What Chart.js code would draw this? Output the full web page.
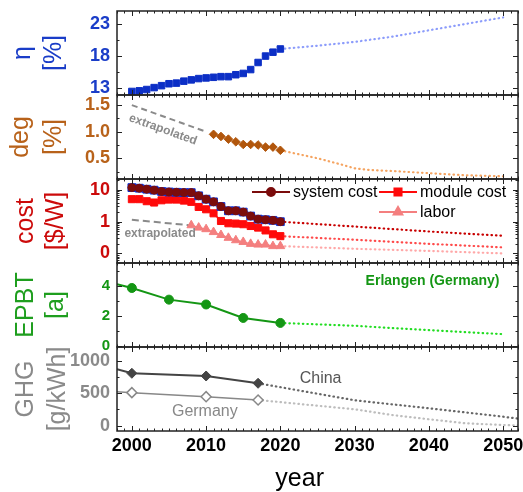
<!DOCTYPE html>
<html>
<head>
<meta charset="utf-8">
<script src="https://cdn.jsdelivr.net/npm/chart.js@4.4.1/dist/chart.umd.min.js"></script>
<style>
  html, body { margin: 0; padding: 0; background: #fff; }
  #wrap { position: relative; width: 523px; height: 492px; }
  #wrap canvas { position: absolute; left: 0; top: 0; }
</style>
</head>
<body>
<div id="wrap">
  <canvas id="etaChart" width="523" height="492"></canvas>
  <canvas id="degChart" width="523" height="492"></canvas>
  <canvas id="costChart" width="523" height="492"></canvas>
  <canvas id="epbtChart" width="523" height="492"></canvas>
  <canvas id="ghgChart" width="523" height="492"></canvas>
</div>
<script>
// ---- shared x axis ----
const xMin = 1998;
const xMax = 2052;
const yearTicks = [2000, 2010, 2020, 2030, 2040, 2050];

// ---- efficiency ----
const etaYears = [2000, 2001, 2002, 2003, 2004, 2005, 2006, 2007, 2008, 2009, 2010,
                  2011, 2012, 2013, 2014, 2015, 2016, 2017, 2018, 2019, 2020];
const etaValues = [12.5, 12.6, 12.8, 13.1, 13.4, 13.7, 13.8, 14.1, 14.3, 14.5, 14.6,
                   14.7, 14.8, 14.8, 15.1, 15.3, 15.9, 17.0, 18.0, 18.6, 19.1];
const etaProjYears = [2020, 2025, 2030, 2035, 2040, 2045, 2050];
const etaProjValues = [19.1, 19.6, 20.2, 21.0, 22.0, 23.0, 24.0];
const etaTicks = [13, 18, 23];

// ---- degradation ----
const degYears = [2011, 2012, 2013, 2014, 2015, 2016, 2017, 2018, 2019, 2020];
const degValues = [0.95, 0.91, 0.86, 0.81, 0.76, 0.76, 0.75, 0.71, 0.71, 0.65];
const degExtrapYears = [2000, 2010];
const degExtrapValues = [1.5, 1.0];
const degProjYears = [2020, 2025, 2028, 2030, 2032, 2035, 2040, 2045, 2050];
const degProjValues = [0.65, 0.50, 0.39, 0.31, 0.28, 0.26, 0.22, 0.18, 0.16];
const degTicks = [0.5, 1.0, 1.5];

// ---- cost ----
const costYears = etaYears;
const systemCost = [11.8, 11.3, 10.5, 9.8, 8.9, 8.6, 8.4, 8.2, 8.2, 6.5, 5.1,
                    4.2, 3.0, 2.2, 2.2, 2.0, 1.5, 1.2, 1.15, 1.1, 1.0];
const moduleCost = [5.1, 5.1, 4.4, 4.0, 4.7, 4.95, 4.95, 4.6, 4.2, 2.9, 2.45,
                    1.83, 1.05, 0.89, 0.87, 0.83, 0.73, 0.65, 0.53, 0.40, 0.35];
const laborYears = [2008, 2009, 2010, 2011, 2012, 2013, 2014, 2015, 2016, 2017, 2018, 2019, 2020];
const laborCost = [0.77, 0.65, 0.58, 0.47, 0.38, 0.31, 0.26, 0.23, 0.20, 0.19, 0.19, 0.17, 0.17];
const costExtrapYears = [2000, 2008];
const costExtrapValues = [1.15, 0.76];
const costProjYears = [2020, 2030, 2040, 2050];
const systemProj = [1.0, 0.70, 0.49, 0.36];
const moduleProj = [0.35, 0.27, 0.20, 0.155];
const laborProj = [0.17, 0.14, 0.12, 0.10];
const costTicks = [0.1, 1, 10];

// ---- energy payback time ----
const epbtYears = [1998, 2000, 2005, 2010, 2015, 2020];
const epbtValues = [4.1, 3.85, 3.08, 2.76, 1.87, 1.54];
const epbtProjYears = [2020, 2030, 2040, 2050];
const epbtProjValues = [1.54, 1.35, 1.06, 0.80];
const epbtTicks = [0, 2, 4];

// ---- greenhouse gas ----
const ghgYears = [1998, 2000, 2010, 2017];
const chinaGhg = [867, 806, 764, 652];
const germanyGhg = [523, 508, 446, 395];
const chinaProjYears = [2017, 2030, 2040, 2050, 2052];
const chinaProj = [652, 391, 267, 138, 108];
const germanyProjYears = [2017, 2030, 2035, 2040, 2045, 2050, 2052];
const germanyProj = [395, 252, 165, 98, 36, 10, 5];
const ghgTicks = [0, 500, 1000];

// ---- layout ----
const FONT = '"Liberation Sans", Arial, sans-serif';
const panelEdges = [11, 95, 179, 263, 347, 431];
const axisWidth = 117;

const pts = (xs, ys) => xs.map((x, i) => ({ x: x, y: ys[i] }));

function dotted(data, color) {
  return { data: data, borderColor: color, borderWidth: 2.2, borderDash: [0.5, 4],
           borderCapStyle: 'round', pointRadius: 0, fill: false };
}

function markers(data, color, style, radius, extra) {
  return Object.assign({ data: data, borderColor: color, backgroundColor: color,
           pointBackgroundColor: color, pointBorderColor: color, pointStyle: style,
           pointRadius: radius, pointBorderWidth: 1, borderWidth: 1.5, fill: false }, extra || {});
}

// Draws frame, inward ticks, axis titles and text notes for each panel
const panelDecor = {
  id: 'panelDecor',
  afterDraw(chart, args, o) {
    const ctx = chart.ctx, a = chart.chartArea;
    const xs = chart.scales.x, ys = chart.scales.y;
    const seg = (x1, y1, x2, y2) => { ctx.beginPath(); ctx.moveTo(x1, y1); ctx.lineTo(x2, y2); ctx.stroke(); };
    ctx.save();
    ctx.strokeStyle = '#222';
    ctx.lineWidth = 1;
    for (let yr = Math.ceil(xs.min); yr <= xs.max; yr++) {
      const px = Math.round(xs.getPixelForValue(yr)) + 0.5;
      const len = yr % 10 === 0 ? 5 : 2.5;
      seg(px, a.top, px, a.top + len);
      seg(px, a.bottom, px, a.bottom - len);
    }
    let minor = o.yMinor || [];
    if (ys.type === 'logarithmic') {
      minor = [];
      for (let d = Math.floor(Math.log10(ys.min)); d <= Math.ceil(Math.log10(ys.max)); d++) {
        for (let k = 2; k <= 9; k++) {
          const v = k * Math.pow(10, d);
          if (v > ys.min && v < ys.max) minor.push(v);
        }
      }
    }
    const yTick = (v, len) => {
      const py = Math.round(ys.getPixelForValue(v)) + 0.5;
      seg(a.left, py, a.left + len, py);
      seg(a.right, py, a.right - len, py);
    };
    o.yMajor.forEach(v => yTick(v, 5));
    minor.forEach(v => yTick(v, 2.5));
    ctx.lineWidth = 1.5;
    ctx.strokeRect(a.left, a.top, a.right - a.left, a.bottom - a.top);

    // rotated two line axis title
    const midY = (a.top + a.bottom) / 2;
    o.title.forEach((t, i) => {
      ctx.save();
      ctx.translate(o.titleX[i], midY);
      ctx.rotate(-Math.PI / 2);
      ctx.fillStyle = o.titleColor;
      ctx.font = '25px ' + FONT;
      ctx.textAlign = 'center';
      ctx.textBaseline = 'alphabetic';
      ctx.fillText(t, 0, 0);
      ctx.restore();
    });

    // text notes placed in data units
    (o.notes || []).forEach(n => {
      ctx.save();
      ctx.translate(xs.getPixelForValue(n.x), ys.getPixelForValue(n.y));
      if (n.along !== undefined) {
        const p = chart.getDatasetMeta(n.along).data;
        ctx.rotate(Math.atan2(p[1].y - p[0].y, p[1].x - p[0].x));
      }
      ctx.fillStyle = n.color;
      ctx.font = n.font + ' ' + FONT;
      ctx.textAlign = n.align || 'left';
      ctx.textBaseline = n.baseline || 'alphabetic';
      ctx.fillText(n.text, 0, 0);
      ctx.restore();
    });

    // hand placed legend rows
    (o.legend || []).forEach(l => {
      const ds = chart.data.datasets[l.dataset];
      const x0 = a.left + l.col, yy = a.top + l.row;
      ctx.strokeStyle = ds.borderColor;
      ctx.lineWidth = 2;
      seg(x0, yy, x0 + 38, yy);
      ctx.fillStyle = ds.pointBackgroundColor;
      Chart.helpers.drawPoint(ctx, { pointStyle: ds.pointStyle, radius: ds.pointRadius, rotation: 0, borderWidth: 1 }, x0 + 19, yy);
      ctx.fillStyle = '#000';
      ctx.font = '16px ' + FONT;
      ctx.textAlign = 'left';
      ctx.textBaseline = 'middle';
      ctx.fillText(l.label, x0 + 41, yy + 1);
    });

    if (o.xTitle) {
      ctx.fillStyle = '#000';
      ctx.font = '25px ' + FONT;
      ctx.textAlign = 'center';
      ctx.textBaseline = 'alphabetic';
      ctx.fillText(o.xTitle.text, xs.getPixelForValue(o.xTitle.x), a.bottom + o.xTitle.dy);
    }
    ctx.restore();
  }
};

function yAxis(cfg) {
  return {
    type: cfg.type || 'linear', min: cfg.min, max: cfg.max,
    grid: { display: false, drawTicks: false }, border: { display: false },
    afterBuildTicks: s => { s.ticks = cfg.ticks.map(v => ({ value: v })); },
    afterFit: s => { s.width = axisWidth; s.paddingTop = 0; s.paddingBottom = 0; },
    ticks: { color: cfg.color, padding: 7, font: { family: FONT, size: cfg.size || 18, weight: 'bold' },
             callback: cfg.label || (v => String(v)) }
  };
}

// every panel spans the full canvas; the x axis box fills the space below it
function makePanel(id, index, datasets, y, decor) {
  const top = panelEdges[index], bottom = panelEdges[index + 1];
  const last = index === panelEdges.length - 2;
  return new Chart(document.getElementById(id), {
    type: 'line',
    data: { datasets: datasets },
    options: {
      responsive: false, animation: false, devicePixelRatio: 1,
      layout: { autoPadding: false, padding: { top: top, bottom: 0, left: 0, right: 5 } },
      plugins: { legend: { display: false }, tooltip: { enabled: false }, panelDecor: decor },
      scales: {
        x: {
          type: 'linear', min: xMin, max: xMax, display: last,
          grid: { display: false, drawTicks: false }, border: { display: false },
          afterBuildTicks: s => { s.ticks = yearTicks.map(v => ({ value: v })); },
          afterFit: s => { s.height = 492 - bottom; s.paddingLeft = 0; s.paddingRight = 0; },
          ticks: { color: '#000', padding: 4, autoSkip: false, maxRotation: 0,
                   font: { family: FONT, size: 18, weight: 'bold' }, callback: v => String(v) }
        },
        y: y
      }
    },
    plugins: [panelDecor]
  });
}

// efficiency panel
makePanel('etaChart', 0, [
  markers(pts(etaYears, etaValues), '#0c2fc6', 'rect', 4.6, { showLine: false }),
  dotted(pts(etaProjYears, etaProjValues), '#8c9cfb')
], yAxis({ min: 11.95, max: 25.0, ticks: etaTicks, color: '#1a3dc8' }),
{ yMajor: etaTicks, yMinor: [15.5, 20.5], title: ['η', '[%]'], titleX: [30, 61], titleColor: '#1a3dc8' });

// degradation panel
makePanel('degChart', 1, [
  markers(pts(degYears, degValues), '#b1560c', 'rectRot', 4.3, { showLine: false }),
  { data: pts(degExtrapYears, degExtrapValues), borderColor: '#8a8a8a', borderWidth: 2,
    borderDash: [6, 4], pointRadius: 0, fill: false },
  dotted(pts(degProjYears, degProjValues), '#f5a461')
], yAxis({ min: 0.11, max: 1.69, ticks: degTicks, color: '#b8621a', label: v => v.toFixed(1) }),
{ yMajor: degTicks, yMinor: [0.25, 0.75, 1.25], title: ['deg', '[%]'], titleX: [28, 61], titleColor: '#b8621a',
  notes: [{ text: 'extrapolated', x: 2004.2, y: 1.04, font: 'bold 12px', color: '#8a8a8a',
            align: 'center', baseline: 'middle', along: 1 }] });

// cost panel
makePanel('costChart', 2, [
  markers(pts(costYears, systemCost), '#7b0c0c', 'circle', 4),
  markers(pts(costYears, systemCost), '#1030d0', 'rect', 5.5, { showLine: false }),
  markers(pts(costYears, moduleCost), '#ff0a0a', 'rect', 5),
  markers(pts(laborYears, laborCost), '#f47f7f', 'triangle', 5),
  dotted(pts(costProjYears, systemProj), '#c80000'),
  dotted(pts(costProjYears, moduleProj), '#ff4a4a'),
  dotted(pts(costProjYears, laborProj), '#ffa8a8'),
  { data: pts(costExtrapYears, costExtrapValues), borderColor: '#8a8a8a', borderWidth: 2,
    borderDash: [7, 4], pointRadius: 0, fill: false }
], yAxis({ type: 'logarithmic', min: 0.05, max: 22, ticks: costTicks, color: '#cc0a0a',
           label: v => String(Math.round(v)) }),
{ yMajor: costTicks, title: ['cost', '[$/W]'], titleX: [33, 63], titleColor: '#cc0a0a',
  notes: [{ text: 'extrapolated', x: 1999, y: 0.32, font: 'bold 12px', color: '#8a8a8a' }],
  legend: [{ label: 'system cost', dataset: 0, col: 135, row: 13 },
           { label: 'module cost', dataset: 2, col: 262, row: 13 },
           { label: 'labor', dataset: 3, col: 262, row: 33 }] });

// energy payback time panel
makePanel('epbtChart', 3, [
  markers(pts(epbtYears, epbtValues), '#149614', 'circle', epbtYears.map(y => y < 2000 ? 0 : 4.5), { borderWidth: 2 }),
  dotted(pts(epbtProjYears, epbtProjValues), '#22dd22')
], yAxis({ min: -0.05, max: 5.5, ticks: epbtTicks, color: '#149614', size: 15 }),
{ yMajor: epbtTicks, yMinor: [1, 3, 5], title: ['EPBT', '[a]'], titleX: [33, 63], titleColor: '#1e9e1e',
  notes: [{ text: 'Erlangen (Germany)', x: 2049.5, y: 4.05, font: 'bold 14px', color: '#149614', align: 'right' }] });

// greenhouse gas panel
makePanel('ghgChart', 4, [
  markers(pts(ghgYears, chinaGhg), '#444444', 'rectRot', ghgYears.map(y => y < 2000 ? 0 : 5), { borderWidth: 2 }),
  markers(pts(ghgYears, germanyGhg), '#888888', 'rectRot', ghgYears.map(y => y < 2000 ? 0 : 5),
          { borderWidth: 1.5, pointBackgroundColor: '#ffffff', pointBorderWidth: 1.5 }),
  dotted(pts(chinaProjYears, chinaProj), '#666666'),
  dotted(pts(germanyProjYears, germanyProj), '#bdbdbd')
], yAxis({ min: -82, max: 1210, ticks: ghgTicks, color: '#8a8a8a' }),
{ yMajor: ghgTicks, yMinor: [250, 750], title: ['GHG', '[g/kWh]'], titleX: [33, 65], titleColor: '#8a8a8a',
  notes: [{ text: 'China', x: 2022.6, y: 657, font: '16px', color: '#555555' },
          { text: 'Germany', x: 2005.4, y: 149, font: '16px', color: '#888888' }],
  xTitle: { text: 'year', x: 2022.6, dy: 55 } });
</script>
</body>
</html>
